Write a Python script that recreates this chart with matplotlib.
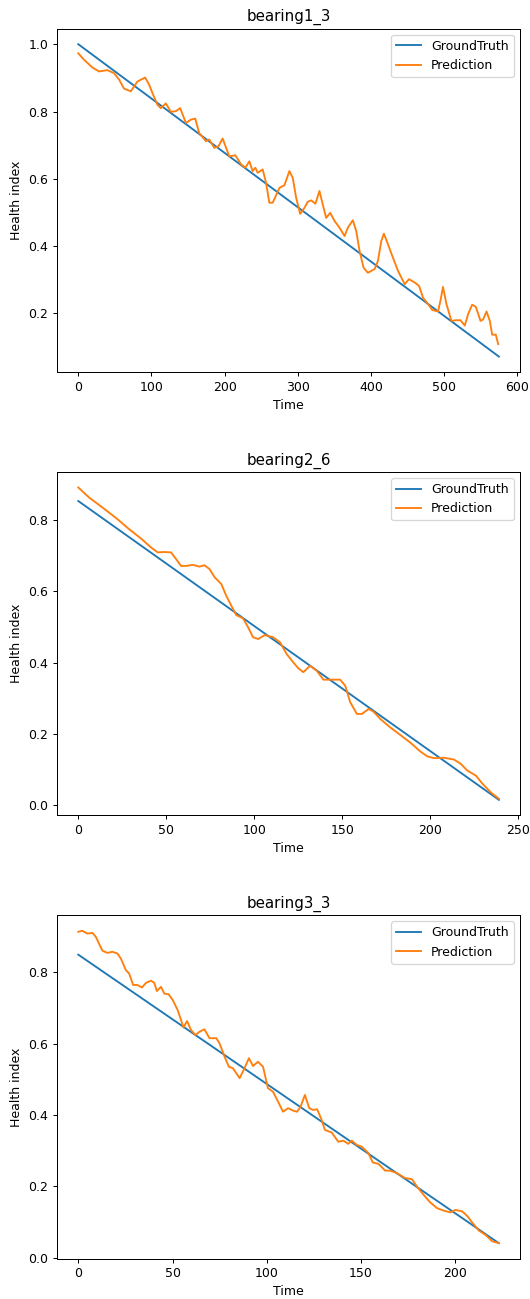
import matplotlib
matplotlib.use("Agg")
import matplotlib.pyplot as plt

# ---- bearing1_3 ----
gt1_t = [0, 575]
gt1_v = [1.0, 0.072]
p1_t = [0, 7.8, 19.2, 28.4, 39.7, 48.9, 55.8, 62.6, 71.8, 80.8, 91.4, 96.8, 101.4, 108.2,
        112.9, 119.7, 126.6, 133.4, 139.3, 147.1, 154, 159.9, 165.3, 174.5, 179, 185.9,
        191.8, 197.3, 206.4, 214.7, 222.5, 228.4, 233.8, 238.4, 242.1, 245.2, 252.1, 256.7,
        261.2, 265.8, 274.9, 281.8, 288.6, 293.2, 297.8, 303.3, 309.2, 313.7, 318.4, 324.2,
        329.7, 334.2, 338.9, 344.4, 350.3, 357.1, 364, 368.5, 375.3, 380, 384.5, 390, 395.9,
        405.1, 409.6, 414.2, 417.8, 423.3, 430.1, 437, 446.2, 452.1, 459.9, 465.8, 471.2,
        478.1, 484.1, 491.8, 495.1, 498.6, 503.3, 510.1, 517, 522.5, 528.4, 532.9, 538.4,
        543.4, 549.9, 553.4, 558.1, 562.6, 565.8, 570.8, 574]
p1_v = [0.973, 0.954, 0.931, 0.919, 0.923, 0.914, 0.895, 0.868, 0.860, 0.889, 0.901, 0.880,
        0.855, 0.820, 0.810, 0.824, 0.799, 0.801, 0.810, 0.766, 0.776, 0.779, 0.736, 0.712,
        0.717, 0.692, 0.697, 0.720, 0.667, 0.670, 0.643, 0.633, 0.652, 0.623, 0.633, 0.618,
        0.628, 0.588, 0.529, 0.529, 0.573, 0.581, 0.623, 0.603, 0.544, 0.496, 0.514, 0.532,
        0.536, 0.526, 0.564, 0.524, 0.484, 0.499, 0.475, 0.455, 0.430, 0.455, 0.477, 0.445,
        0.386, 0.336, 0.321, 0.332, 0.356, 0.415, 0.437, 0.406, 0.366, 0.327, 0.287, 0.302,
        0.292, 0.282, 0.247, 0.228, 0.210, 0.206, 0.238, 0.279, 0.228, 0.178, 0.180, 0.180,
        0.164, 0.198, 0.226, 0.220, 0.178, 0.182, 0.206, 0.178, 0.137, 0.137, 0.109]

# ---- bearing2_6 ----
gt2_t = [0, 239]
gt2_v = [0.853, 0.015]
p2_t = [0, 6.1, 13.7, 22.3, 28.9, 35.6, 41.3, 45.1, 48.9, 52.7, 55.6, 58.4, 61.3, 65.1,
        68.9, 71.7, 74.6, 77.5, 81.3, 84.1, 87, 89.8, 93.6, 96.5, 99.3, 102.2, 106, 110.7,
        114.6, 118.4, 122.1, 125, 127.9, 131.7, 135.5, 139.3, 142.1, 148.8, 151.7, 154.5,
        158.3, 161.2, 165, 167.8, 171.6, 177.3, 183, 188.8, 194.5, 198.3, 202.1, 207.8,
        213.5, 217.3, 221.1, 225.9, 229.7, 234.4, 239]
p2_v = [0.891, 0.863, 0.835, 0.802, 0.774, 0.748, 0.723, 0.709, 0.710, 0.709, 0.690, 0.671,
        0.671, 0.674, 0.669, 0.673, 0.662, 0.639, 0.620, 0.587, 0.559, 0.533, 0.524, 0.499,
        0.471, 0.466, 0.477, 0.471, 0.457, 0.424, 0.401, 0.384, 0.373, 0.391, 0.377, 0.352,
        0.352, 0.352, 0.335, 0.289, 0.256, 0.256, 0.270, 0.262, 0.242, 0.218, 0.197, 0.175,
        0.150, 0.137, 0.132, 0.133, 0.128, 0.116, 0.097, 0.083, 0.060, 0.036, 0.018]

# ---- bearing3_3 ----
gt3_t = [0, 223]
gt3_v = [0.849, 0.041]
p3_t = [0, 2.1, 4.8, 7.5, 9.3, 11, 12.8, 15.4, 18.1, 20.8, 22.6, 25.2, 27, 29.1, 31.4, 33.8,
        35.9, 38.6, 40.3, 41.7, 43.9, 45.6, 47.9, 50.1, 52.7, 54.5, 55.8, 57.7, 59.8, 62.1,
        64.3, 66.9, 69.6, 73.2, 74.9, 77.6, 79.9, 82, 85.6, 88.2, 90.5, 92.7, 95.3, 98,
        100.6, 103.3, 106, 108.6, 111.3, 114, 116.1, 117.9, 120.2, 122.5, 124.6, 126.7,
        129.1, 130.8, 134.4, 137.9, 140.6, 143.2, 145, 147.7, 150.4, 153.9, 156.2, 159.2,
        162.8, 165.4, 169, 173.4, 177, 179.7, 183.2, 186.7, 190.3, 193.8, 197.4, 200, 203.6,
        206.3, 208.9, 212.5, 216, 219.6, 223.1]
p3_v = [0.913, 0.916, 0.908, 0.910, 0.899, 0.880, 0.860, 0.854, 0.857, 0.852, 0.838, 0.806,
        0.796, 0.764, 0.764, 0.757, 0.770, 0.776, 0.770, 0.747, 0.759, 0.740, 0.738, 0.722,
        0.694, 0.666, 0.645, 0.663, 0.638, 0.624, 0.633, 0.640, 0.615, 0.615, 0.601, 0.563,
        0.535, 0.531, 0.503, 0.531, 0.559, 0.537, 0.549, 0.535, 0.475, 0.465, 0.437, 0.409,
        0.419, 0.412, 0.409, 0.423, 0.456, 0.419, 0.414, 0.416, 0.386, 0.358, 0.351, 0.325,
        0.328, 0.319, 0.328, 0.316, 0.311, 0.293, 0.267, 0.263, 0.244, 0.244, 0.237, 0.223,
        0.220, 0.199, 0.176, 0.155, 0.139, 0.132, 0.127, 0.134, 0.130, 0.117, 0.099, 0.076,
        0.064, 0.046, 0.041]

names = ["bearing1_3", "bearing2_6", "bearing3_3"]
series = [
    (gt1_t, gt1_v, p1_t, p1_v),
    (gt2_t, gt2_v, p2_t, p2_v),
    (gt3_t, gt3_v, p3_t, p3_v),
]

# reference looks like a slightly downscaled render, so use a lower dpi
DPI = 90
fig, axes = plt.subplots(3, 1, figsize=(530 / DPI, 1299 / DPI), dpi=DPI)
fig.subplots_adjust(left=0.108, right=0.981, top=0.978, bottom=0.031, hspace=0.29)

for ax, name, (gt_t, gt_v, p_t, p_v) in zip(axes, names, series):
    ax.plot(gt_t, gt_v, color="C0", label="GroundTruth")
    ax.plot(p_t, p_v, color="C1", label="Prediction")
    ax.set_title(name)
    ax.set_xlabel("Time")
    ax.set_ylabel("Health index")
    ax.legend(loc="upper right")

fig.savefig("out.png", dpi=DPI)
